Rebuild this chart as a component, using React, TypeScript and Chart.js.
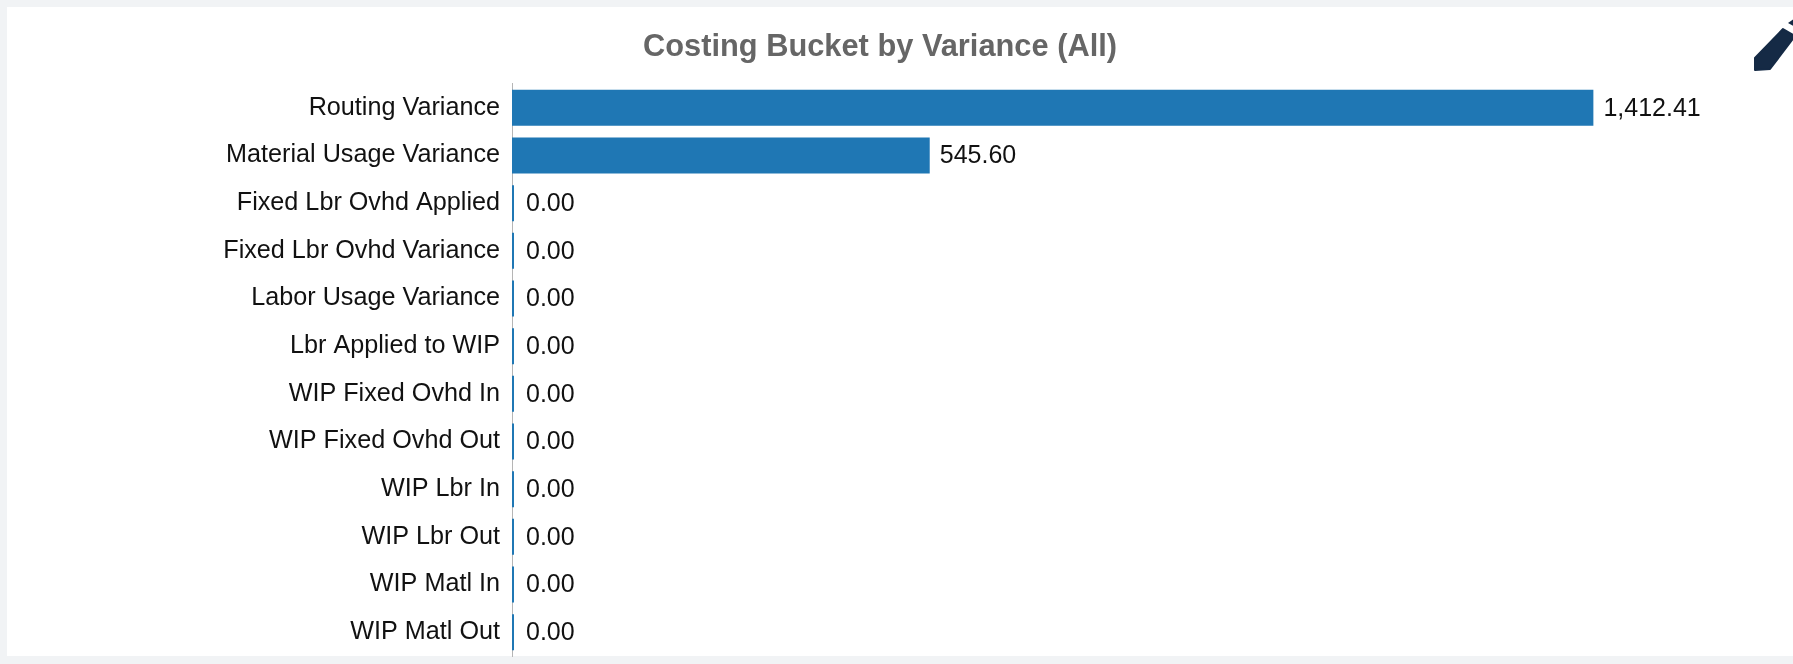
import React, { useEffect, useRef } from "react";
import { Chart, registerables } from "chart.js";

Chart.register(...registerables);

const categories = [
  "Routing Variance",
  "Material Usage Variance",
  "Fixed Lbr Ovhd Applied",
  "Fixed Lbr Ovhd Variance",
  "Labor Usage Variance",
  "Lbr Applied to WIP",
  "WIP Fixed Ovhd In",
  "WIP Fixed Ovhd Out",
  "WIP Lbr In",
  "WIP Lbr Out",
  "WIP Matl In",
  "WIP Matl Out",
];
const variances = [1412.41, 545.6, 0, 0, 0, 0, 0, 0, 0, 0, 0, 0];
const titleText = "Costing Bucket by Variance (All)";
const FONT = '"Liberation Sans", Arial, sans-serif';

const valueLabels = {
  id: "valueLabels",
  afterDatasetsDraw(chart: any) {
    const { ctx } = chart;
    const meta = chart.getDatasetMeta(0);
    ctx.save();
    ctx.font = `25px ${FONT}`;
    ctx.fillStyle = "#111";
    ctx.textAlign = "left";
    ctx.textBaseline = "middle";
    meta.data.forEach((bar: any, i: number) => {
      const text = variances[i].toLocaleString("en-US", { minimumFractionDigits: 2, maximumFractionDigits: 2 });
      ctx.fillText(text, bar.x + (variances[i] === 0 ? 12 : 10), bar.y + 1);
    });
    ctx.restore();
  },
};

export default function App() {
  const ref = useRef<HTMLCanvasElement>(null);
  useEffect(() => {
    document.body.style.margin = "0";
    document.body.style.overflow = "hidden";
    document.body.style.background = "#f1f3f5";
    const chart = new Chart(ref.current!, {
      type: "bar",
      data: {
        labels: categories,
        datasets: [
          {
            data: variances,
            backgroundColor: "#1f77b4",
            barPercentage: 0.755,
            categoryPercentage: 1,
            minBarLength: 2,
          },
        ],
      },
      options: {
        indexAxis: "y",
        animation: false,
        responsive: false,
        devicePixelRatio: 1,
        layout: { padding: { top: 0, right: 23, bottom: 8, left: 23 } },
        plugins: {
          legend: { display: false },
          tooltip: { enabled: false },
          title: {
            display: true,
            text: titleText,
            color: "#666",
            font: { family: FONT, size: 30.8, weight: "bold" },
            padding: { top: 29, bottom: 18 },
          },
        },
        scales: {
          x: { display: false, min: 0, max: 1600 },
          y: {
            afterFit(scale: any) {
              scale.width = 489;
              scale.paddingTop = 0;
              scale.paddingBottom = 0;
            },
            grid: { display: false, drawTicks: false },
            border: { display: true, color: "#b5b5b5", width: 1, dash: [3, 3] },
            ticks: {
              color: "#111",
              padding: 12,
              autoSkip: false,
              font: { family: FONT, size: 25.2 },
            },
          },
        },
      },
      plugins: [valueLabels],
    } as any);
    return () => chart.destroy();
  }, []);

  return (
    <div style={{ position: "relative", width: 1793, height: 664, overflow: "hidden", background: "#f1f3f5" }}>
      <div style={{ position: "absolute", left: 7, top: 7, width: 1786, height: 649, background: "#fff" }} />
      <canvas ref={ref} width={1760} height={664} style={{ position: "absolute", left: 0, top: 0, width: 1760, height: 664 }} />
      <svg width={1793} height={664} style={{ position: "absolute", left: 0, top: 0 }}>
        <path
          d="M1755 58 L1783 29 L1795 36 L1770 69 L1755 70 Z"
          fill="#152a45"
          stroke="#152a45"
          strokeWidth={2}
          strokeLinejoin="round"
        />
        <path d="M1788 23 L1795 18 L1795 27 Z" fill="#152a45" />
      </svg>
    </div>
  );
}
